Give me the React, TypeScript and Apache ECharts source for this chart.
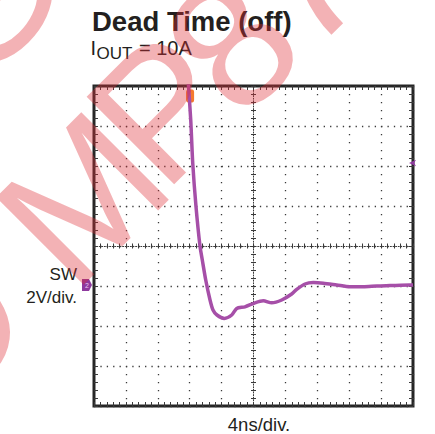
import React, { useEffect, useRef } from "react";
import * as echarts from "echarts";

// Time axis (ns) and SW node voltage (V), ground reference = 0 V
const timeNs = [11.8, 12.13, 12.38, 12.79, 13.29, 13.58, 14.01, 14.55, 14.92, 15.42, 16.34, 17.27, 17.89, 18.93, 20.19, 21.23, 22.28, 23.54, 24.79, 25.42, 26.46, 27.5, 28.75, 30.43, 32.1, 33.77, 35.45, 37.12, 39.62, 40];
const swVolts = [10.3, 8.3, 6.15, 3.97, 2.0, 1.3, 0.3, -0.7, -1.2, -1.45, -1.62, -1.45, -1.12, -1.04, -0.84, -0.74, -0.84, -0.7, -0.4, -0.17, 0.1, 0.17, 0.14, 0.05, -0.04, -0.04, 0.0, 0.02, 0.05, 0.05];

const xRange = [0, 40]; // 4 ns/div, 10 div
const yRange = [-6, 10]; // 2 V/div, 8 div
const xDiv = 4;
const yDiv = 2;
const triggerTime = 12.05;
const triggerMarkerLevel = 9.5;
const triggerLevel = 6.15;
const groundLevel = 0;

const titleText = "Dead Time (off)";
const xLabel = "4ns/div.";
const chName = "SW";
const chScale = "2V/div.";

const FONT = "'Liberation Sans', Arial, Helvetica, sans-serif";
const DOT = "#3a3a3a";
const TRACE = "#a64fa8";
const CHCOL = "#8e3a9e";
const WM = "rgba(222,45,55,0.37)";

export default function App() {
  const ref = useRef<HTMLDivElement>(null);
  useEffect(() => {
    if (!ref.current) return;
    const chart = echarts.init(ref.current, undefined, { renderer: "svg" });

    const edgeX = (pos: string, split: boolean) => ({
      type: "value",
      min: xRange[0],
      max: xRange[1],
      interval: xDiv,
      position: pos,
      axisLine: { show: false, onZero: false },
      axisTick: { show: true, inside: true, length: 4, lineStyle: { color: DOT, width: 1 } },
      minorTick: { show: true, splitNumber: 5, length: 4, lineStyle: { color: DOT, width: 1 } },
      axisLabel: { show: false },
      splitLine: { show: split, lineStyle: { color: DOT, width: 1.3, type: [1.3, 6.7] } },
    });
    const edgeY = (pos: string, split: boolean) => ({
      type: "value",
      min: yRange[0],
      max: yRange[1],
      interval: yDiv,
      position: pos,
      axisLine: { show: false, onZero: false },
      axisTick: { show: true, inside: true, length: 4, lineStyle: { color: DOT, width: 1 } },
      minorTick: { show: true, splitNumber: 5, length: 4, lineStyle: { color: DOT, width: 1 } },
      axisLabel: { show: false },
      splitLine: { show: split, lineStyle: { color: DOT, width: 1.3, type: [1.3, 5.08] } },
    });
    const centerX = (inside: boolean, line: boolean) => ({
      type: "value",
      min: xRange[0],
      max: xRange[1],
      interval: xDiv,
      position: "bottom",
      offset: -160,
      axisLine: { show: line, onZero: false, lineStyle: { color: DOT, width: 1, type: [1, 1.6] } },
      axisTick: { show: true, inside, length: 2.5, lineStyle: { color: DOT, width: 1 } },
      minorTick: { show: true, splitNumber: 5, length: 2.5, lineStyle: { color: DOT, width: 1 } },
      axisLabel: { show: false },
      splitLine: { show: false },
    });
    const centerY = (inside: boolean, line: boolean) => ({
      type: "value",
      min: yRange[0],
      max: yRange[1],
      interval: yDiv,
      position: "left",
      offset: -159.5,
      axisLine: { show: line, onZero: false, lineStyle: { color: DOT, width: 1, type: [1, 1.6] } },
      axisTick: { show: true, inside, length: 2.5, lineStyle: { color: DOT, width: 1 } },
      minorTick: { show: true, splitNumber: 5, length: 2.5, lineStyle: { color: DOT, width: 1 } },
      axisLabel: { show: false },
      splitLine: { show: false },
    });

    const letter = (ch: string, x: number, y: number, rot = 45) => ({
      type: "text",
      x,
      y,
      rotation: (rot * Math.PI) / 180,
      z: 100,
      silent: true,
      style: {
        text: ch,
        font: `180px ${FONT}`,
        fill: WM,
        align: "center",
        verticalAlign: "middle",
      },
    });

    const txt = (text: string, x: number, y: number, size: number, opts: any = {}) => ({
      type: "text",
      x,
      y,
      z: 50,
      style: {
        text,
        font: `${opts.weight || "normal"} ${size}px ${FONT}`,
        fill: "#231f20",
        align: opts.align || "left",
        verticalAlign: "middle",
      },
    });

    chart.setOption({
      animation: false,
      backgroundColor: "#ffffff",
      grid: {
        left: 94,
        top: 86,
        width: 319,
        height: 320,
        show: true,
        borderWidth: 3,
        borderColor: "#262626",
        backgroundColor: "transparent",
      },
      xAxis: [edgeX("bottom", true), edgeX("top", false), centerX(true, true), centerX(false, false)],
      yAxis: [edgeY("left", true), edgeY("right", false), centerY(true, true), centerY(false, false)],
      series: [
        {
          type: "line",
          xAxisIndex: 0,
          yAxisIndex: 0,
          data: timeNs.map((t, i) => [t, swVolts[i]]),
          showSymbol: false,
          symbol: "none",
          smooth: 0.25,
          clip: true,
          lineStyle: { color: TRACE, width: 3.5 },
          z: 5,
          markPoint: {
            silent: true,
            data: [
              {
                coord: [triggerTime, triggerMarkerLevel],
                symbol: "roundRect",
                symbolSize: [8, 13],
                itemStyle: { color: "#f4792f" },
                label: { show: false },
              },
              {
                coord: [xRange[1], triggerLevel],
                symbol: "arrow",
                symbolRotate: 90,
                symbolSize: [5, 7],
                symbolOffset: [-4, 0],
                itemStyle: { color: CHCOL },
                label: { show: false },
              },
              {
                coord: [xRange[0], groundLevel],
                symbol: "path://M0,0 L7,0 L10,5 L7,10 L0,10 Z",
                symbolSize: [10, 12],
                symbolOffset: [-7, -1],
                itemStyle: { color: CHCOL },
                label: { show: true, formatter: "2", color: "#e7c9ee", fontSize: 7, fontFamily: FONT },
              },
            ],
          },
        },
      ],
      graphic: [
        txt(titleText, 92, 21.4, 27.5, { weight: "bold" }),
        txt("I", 90.5, 48, 20),
        txt("OUT", 96.5, 53, 17),
        txt("= 10A", 139, 48, 20),
        txt(chName, 77, 274, 17, { align: "right" }),
        txt(chScale, 77, 297, 17, { align: "right" }),
        txt(xLabel, 259, 424, 18.5, { align: "center" }),
        letter("O", -55, 330),
        letter("M", 82, 198),
        letter("P", 162, 108),
        letter("8", 232, 44),
        letter("7", 300, -22),
        letter("G", -18, -2),
      ],
    });
    return () => chart.dispose();
  }, []);
  return (
    <div
      ref={ref}
      style={{ position: "absolute", left: 0, top: 0, width: 435, height: 434 }}
    />
  );
}
